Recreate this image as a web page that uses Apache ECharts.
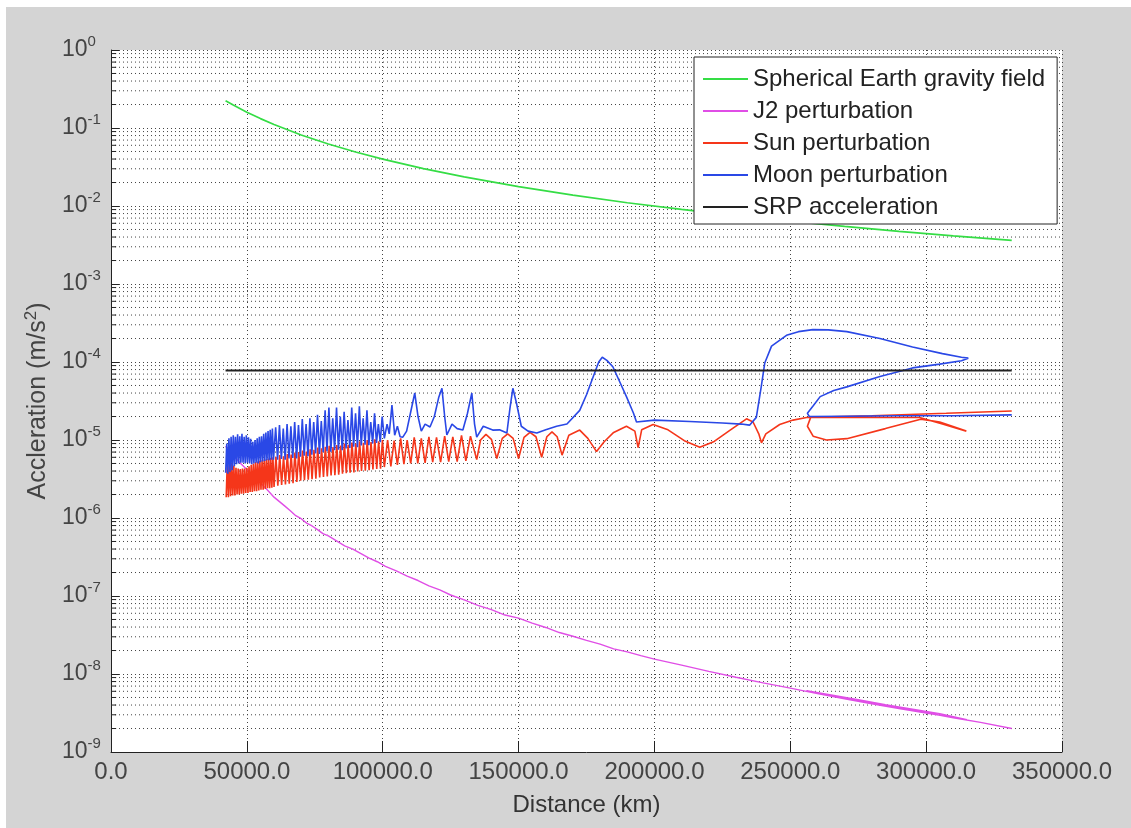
<!DOCTYPE html>
<html>
<head>
<meta charset="utf-8">
<script src="https://cdn.jsdelivr.net/npm/echarts@6/dist/echarts.min.js"></script>
<style>
  html, body { margin: 0; padding: 0; background: #fff; }
  #chart { position: absolute; left: 6px; top: 7px; width: 1125px; height: 821px; }
</style>
</head>
<body>
<div id="chart"></div>
<script>
// distance in km, acceleration in m/s^2
const seriesNames = ['Spherical Earth gravity field', 'J2 perturbation', 'Sun perturbation', 'Moon perturbation', 'SRP acceleration']
const decades = [-9, -8, -7, -6, -5, -4, -3, -2, -1]
const minorSteps = [2, 3, 4, 5, 6, 7, 8, 9]

const earth = [[42164,0.224],[45000,0.197],[50000,0.159],[55000,0.132],[60000,0.111],[70000,0.0813],[80000,0.0623],[90000,0.0492],[100000,0.0399],[115000,0.0301],[130000,0.0236],[150000,0.0177],[170000,0.0138],[190000,0.0110],[210000,0.00904],[230000,0.00753],[250000,0.00638],[270000,0.00547],[290000,0.00474],[310000,0.00415],[331500,0.00363]]

const j2 = [[42164,8.3e-6],[44000,7.0e-6],[46000,5.8e-6],[48000,4.9e-6],[50000,4.2e-6],[52000,3.6e-6],[54000,3.1e-6],[56000,2.6e-6],[58000,2.2e-6],[60000,1.85e-6],[62000,1.62e-6],[64000,1.42e-6],[66000,1.24e-6],[68000,1.07e-6],[70000,9.8e-7],[72000,8.6e-7],[74000,7.9e-7],[76000,7.1e-7],[78000,6.3e-7],[80000,5.9e-7],[83000,5.1e-7],[86000,4.4e-7],[89000,4.0e-7],[92000,3.5e-7],[95000,3.05e-7],[98000,2.75e-7],[101000,2.4e-7],[105000,2.1e-7],[109000,1.8e-7],[113000,1.58e-7],[117000,1.35e-7],[121000,1.2e-7],[125000,1.03e-7],[130000,8.9e-8],[135000,7.6e-8],[140000,6.7e-8],[145000,5.7e-8],[150000,5.2e-8],[155000,4.5e-8],[160000,3.95e-8],[165000,3.4e-8],[170000,3.05e-8],[175000,2.7e-8],[180000,2.42e-8],[185000,2.1e-8],[190000,1.92e-8],[195000,1.72e-8],[200000,1.55e-8],[210000,1.3e-8],[220000,1.08e-8],[230000,9.1e-9],[240000,7.7e-9],[250000,6.6e-9],[260000,5.6e-9],[270000,4.8e-9],[280000,4.15e-9],[290000,3.6e-9],[300000,3.15e-9],[308000,2.85e-9],[315000,2.6e-9],[305000,3.1e-9],[295000,3.55e-9],[285000,4.05e-9],[275000,4.7e-9],[265000,5.4e-9],[256000,6.1e-9],[265000,5.2e-9],[280000,4.3e-9],[295000,3.45e-9],[310000,2.75e-9],[320000,2.4e-9],[331500,2.0e-9]]

const sun = [
  [42400,1.85e-6],[42800,5.3e-6],[43200,1.85e-6],[43600,5.2e-6],[44000,1.9e-6],[44400,5.0e-6],[44800,1.95e-6],[45200,4.7e-6],[45600,1.95e-6],[46000,4.4e-6],
  [46400,2.0e-6],[46800,4.3e-6],[47200,2.0e-6],[47600,4.25e-6],[48000,2.05e-6],[48400,4.3e-6],[48800,2.05e-6],[49200,4.3e-6],[49600,2.1e-6],[50000,4.4e-6],
  [50400,2.1e-6],[50800,4.6e-6],[51200,2.15e-6],[51600,4.8e-6],[52000,2.15e-6],[52400,5.0e-6],[52800,2.2e-6],[53200,5.2e-6],[53600,2.2e-6],[54000,5.3e-6],
  [54400,2.25e-6],[54800,5.4e-6],[55200,2.3e-6],[55600,5.5e-6],[56000,2.3e-6],[56400,5.6e-6],[56800,2.35e-6],[57200,5.7e-6],[57600,2.4e-6],[58000,5.8e-6],
  [58400,2.4e-6],[58800,5.9e-6],[59200,2.45e-6],[59600,6.0e-6],[60000,2.5e-6],
  [60700,6.1e-6],[61400,2.6e-6],[62100,6.4e-6],[62800,2.65e-6],[63500,6.2e-6],[64200,2.7e-6],[64900,6.6e-6],[65600,2.75e-6],[66300,6.5e-6],[67000,2.8e-6],
  [67700,6.9e-6],[68400,2.9e-6],[69100,7.0e-6],[69800,3.0e-6],[70500,7.3e-6],[71200,3.05e-6],[71900,7.1e-6],[72600,3.1e-6],[73300,7.6e-6],[74000,3.15e-6],
  [74700,7.5e-6],[75400,3.2e-6],[76100,8.0e-6],[76800,3.3e-6],[77500,7.8e-6],[78200,3.35e-6],[78900,8.2e-6],[79600,3.4e-6],[80300,8.4e-6],[81000,3.5e-6],
  [81700,8.1e-6],[82400,3.55e-6],[83100,8.6e-6],[83800,3.6e-6],[84500,8.5e-6],[85200,3.7e-6],[85900,9.0e-6],[86600,3.75e-6],[87300,8.7e-6],[88000,3.8e-6],
  [88700,9.3e-6],[89400,3.85e-6],[90100,9.0e-6],[90800,3.95e-6],[91500,9.6e-6],[92200,4.0e-6],[92900,9.2e-6],[93600,4.05e-6],[94300,1.0e-5],[95000,4.1e-6],
  [95700,9.4e-6],[96400,4.2e-6],[97100,1.02e-5],[97800,4.25e-6],[98500,9.6e-6],[99200,4.3e-6],[99900,1.0e-5],
  [100600,4.5e-6],[101800,1.0e-5],[103000,4.6e-6],[104200,9.8e-6],[105400,4.8e-6],[106600,1.05e-5],[107800,4.9e-6],[109000,1.0e-5],[110300,5.0e-6],[111600,1.08e-5],
  [112900,5.0e-6],[114200,1.05e-5],[115600,5.1e-6],[117000,1.1e-5],[118400,5.2e-6],[119800,1.08e-5],[121300,5.2e-6],[122800,1.12e-5],[124300,5.3e-6],[125800,1.1e-5],
  [127400,5.3e-6],[129000,1.15e-5],[130600,5.4e-6],[132300,1.12e-5],[134600,5.6e-6],
  [136000,1.0e-5],[138000,1.18e-5],[140000,1.02e-5],[142000,5.8e-6],[144000,1.05e-5],[146000,1.2e-5],[148000,1.05e-5],[150000,5.8e-6],
  [152000,1.08e-5],[154200,1.25e-5],[156400,1.1e-5],[158500,6.0e-6],[160400,1.1e-5],[162300,1.27e-5],[164200,1.1e-5],[166000,6.4e-6],
  [168500,1.15e-5],[172500,1.34e-5],[175500,1.05e-5],[178700,7.1e-6],[181500,9.5e-6],[185000,1.25e-5],[189700,1.5e-5],[192800,1.3e-5],[194000,8.0e-6],
  [195300,1.35e-5],[199500,1.58e-5],[205000,1.35e-5],[211000,9.8e-6],[216700,8.1e-6],[222000,9.6e-6],[228000,1.35e-5],[233900,1.87e-5],[236300,1.7e-5],
  [238400,1.2e-5],[239400,9.2e-6],[241000,1.2e-5],[246100,1.58e-5],[251000,1.8e-5],[256000,1.94e-5],[275000,1.95e-5],[297600,1.94e-5],[306000,1.6e-5],
  [314800,1.3e-5],[305000,1.7e-5],[298000,1.85e-5],[285000,1.4e-5],[270800,1.04e-5],[263300,1.0e-5],[258400,1.12e-5],[256300,1.5e-5],[257500,1.95e-5],
  [280000,2.05e-5],[307400,2.2e-5],[331500,2.35e-5]
]

const moon = [
  [42200,3.8e-6],[42600,9.0e-6],[43000,3.7e-6],[43400,1.05e-5],[43800,3.9e-6],[44200,1.1e-5],[44600,4.1e-6],[45000,1.15e-5],[45400,4.6e-6],[45800,1.1e-5],
  [46200,4.9e-6],[46600,1.18e-5],[47000,5.0e-6],[47400,1.12e-5],[47800,5.1e-6],[48200,1.2e-5],[48600,5.1e-6],[49000,1.1e-5],[49400,5.0e-6],[49800,1.15e-5],
  [50200,5.1e-6],[50600,1.08e-5],[51000,5.0e-6],[51400,1.04e-5],[51800,4.9e-6],[52200,9.5e-6],[52600,5.0e-6],[53000,1.0e-5],[53400,5.1e-6],[53800,1.05e-5],
  [54200,5.0e-6],[54600,1.1e-5],[55000,5.2e-6],[55400,1.12e-5],[55800,5.3e-6],[56200,1.2e-5],[56600,5.4e-6],[57000,1.25e-5],[57400,5.5e-6],[57800,1.3e-5],
  [58200,5.5e-6],[58600,1.35e-5],[59000,5.6e-6],[59400,1.4e-5],[59800,5.6e-6],
  [60600,1.45e-5],[61300,5.6e-6],[62000,1.55e-5],[62700,5.7e-6],[63400,1.4e-5],[64100,5.6e-6],[64800,1.6e-5],[65500,5.8e-6],[66200,1.5e-5],[66900,5.9e-6],
  [67600,1.7e-5],[68300,5.8e-6],[69000,1.55e-5],[69700,6.1e-6],[70400,1.85e-5],[71100,6.3e-6],[71800,1.6e-5],[72500,6.2e-6],[73200,1.9e-5],[73900,6.5e-6],
  [74600,1.7e-5],[75300,6.7e-6],[76000,2.1e-5],[76700,6.6e-6],[77400,1.75e-5],[78100,7.0e-6],[78800,2.4e-5],[79500,7.2e-6],[80200,2.6e-5],[80900,7.1e-6],
  [81600,1.9e-5],[82300,7.4e-6],[83000,2.6e-5],[83700,7.5e-6],[84400,2.0e-5],[85100,7.4e-6],[85800,2.3e-5],[86500,7.8e-6],[87200,1.8e-5],[87900,7.9e-6],
  [88600,2.6e-5],[89300,8.2e-6],[90000,2.2e-5],[90700,8.1e-6],[91400,2.7e-5],[92100,8.5e-6],[92800,1.9e-5],[93500,8.7e-6],[94200,2.4e-5],[94900,8.6e-6],
  [95600,1.7e-5],[96300,9.0e-6],[97000,2.2e-5],[97700,9.2e-6],[98400,1.6e-5],[99100,9.4e-6],[99800,2.0e-5],
  [100600,1.05e-5],[101600,1.6e-5],[102400,1.2e-5],[103400,2.8e-5],[104400,1.15e-5],[105400,1.5e-5],[106400,1.1e-5],[107400,1.09e-5],[108800,1.3e-5],[110200,2.2e-5],
  [111800,4.0e-5],[113000,2.0e-5],[114200,1.3e-5],[115600,1.6e-5],[117400,1.47e-5],[119000,2.0e-5],[120600,3.5e-5],[121800,4.6e-5],[122800,2.0e-5],[123600,1.16e-5],
  [125500,1.6e-5],[127400,1.4e-5],[129500,1.34e-5],[131200,2.2e-5],[132800,4.0e-5],[133800,1.6e-5],[134600,1.09e-5],[137000,1.5e-5],[140500,1.34e-5],[143000,1.35e-5],
  [145700,1.23e-5],[146800,2.5e-5],[147900,4.6e-5],[149200,3.0e-5],[151000,1.5e-5],[153500,1.3e-5],[156700,1.23e-5],[160000,1.35e-5],[164000,1.5e-5],[167800,1.6e-5],
  [172500,2.4e-5],[175000,3.8e-5],[177500,6.5e-5],[179500,1.0e-4],[180800,1.15e-4],[182500,1.05e-4],[184700,8.7e-5],[187300,5.5e-5],[189700,3.6e-5],[192300,2.2e-5],
  [193400,1.7e-5],[200000,1.8e-5],[213000,1.73e-5],[225000,1.65e-5],[232000,1.6e-5],[235000,1.55e-5],[237500,1.95e-5],[239300,4.8e-5],[240600,9.7e-5],[243100,1.6e-4],
  [248600,2.2e-4],[253000,2.45e-4],[258300,2.6e-4],[264000,2.58e-4],[270800,2.45e-4],[283000,2.0e-4],[295000,1.56e-4],[306000,1.28e-4],[313000,1.15e-4],[315500,1.12e-4],
  [313000,1.04e-4],[305000,9.4e-5],[295000,8.4e-5],[283000,6.5e-5],[270800,4.8e-5],[266000,4.3e-5],[261000,3.6e-5],[258300,2.7e-5],[256300,2.2e-5],[257000,2.0e-5],
  [270000,2.02e-5],[290000,2.05e-5],[310000,2.05e-5],[331500,2.1e-5]
]

const srp = [[42164,7.8e-5],[331500,7.8e-5]]

const colors = ['#35dd45', '#e04ee6', '#f5361a', '#2a48e6', '#222222']
const font = "'Liberation Sans', Arial, sans-serif"
const dotted = { color: '#444', type: [1, 3], width: 1 }

// minor grid lines and minor ticks for the log axis, drawn as broken line series
let minorGrid = []
let minorTicks = []
decades.forEach(d => {
  minorSteps.forEach(m => {
    let v = m * Math.pow(10, d)
    minorGrid.push([0, v], [350000, v], [0, '-'])
    minorTicks.push([0, v], [1900, v], [0, '-'])
  })
})

let chart = echarts.init(document.getElementById('chart'))
chart.setOption({
  backgroundColor: '#d4d4d4',
  animation: false,
  color: colors,
  grid: {
    left: 105, top: 43, width: 951, height: 702,
    show: true, backgroundColor: '#fff', borderWidth: 0
  },
  legend: {
    data: seriesNames,
    orient: 'vertical',
    left: 688, top: 50,
    padding: [10, 12, 5, 9],
    itemWidth: 45, itemHeight: 2, itemGap: 8,
    icon: 'rect',
    backgroundColor: '#fff',
    borderColor: '#222', borderWidth: 1, borderRadius: 0,
    textStyle: { fontSize: 24, color: '#222', fontFamily: font, lineHeight: 24 }
  },
  xAxis: {
    type: 'value',
    min: 0, max: 350000, interval: 50000,
    name: 'Distance (km)',
    nameLocation: 'middle',
    nameGap: 41,
    nameTextStyle: { fontSize: 24, color: '#333', fontFamily: font },
    axisLine: { show: true, onZero: false, lineStyle: { color: '#222', width: 1 } },
    axisTick: { show: true, inside: true, length: 11, lineStyle: { color: '#222' } },
    axisLabel: {
      fontSize: 24, color: '#444', fontFamily: font, margin: 8,
      showMinLabel: true, showMaxLabel: true,
      formatter: v => v.toFixed(1)
    },
    splitLine: { show: true, lineStyle: dotted }
  },
  yAxis: {
    type: 'log',
    logBase: 10,
    min: 1e-9, max: 1,
    splitNumber: 9,
    name: '{a|Accleration (m/s}{s|2}{a|)}',
    nameLocation: 'middle',
    nameGap: 43,
    nameTextStyle: {
      rich: {
        a: { fontSize: 25, color: '#444', fontFamily: font, lineHeight: 32 },
        s: { fontSize: 17, color: '#444', fontFamily: font, verticalAlign: 'top' }
      }
    },
    axisLine: { show: true, lineStyle: { color: '#222', width: 1 } },
    axisTick: { show: true, inside: true, length: 8, lineStyle: { color: '#222' } },
    axisLabel: {
      margin: 49,
      align: 'left',
      formatter: v => '{b|10}{e|' + Math.round(Math.log10(v)) + '}',
      rich: {
        b: { fontSize: 23, color: '#444', fontFamily: font, lineHeight: 32 },
        e: { fontSize: 15, color: '#444', fontFamily: font, verticalAlign: 'top' }
      }
    },
    splitLine: { show: true, lineStyle: dotted }
  },
  series: [
    { name: 'minorGrid', type: 'line', data: minorGrid, silent: true, z: 1, showSymbol: false, connectNulls: false, lineStyle: dotted },
    { name: 'minorTicks', type: 'line', data: minorTicks, silent: true, z: 5, showSymbol: false, connectNulls: false, lineStyle: { color: '#222', width: 1 } },
    { name: seriesNames[0], type: 'line', data: earth, showSymbol: false, z: 2, lineStyle: { width: 1.7, color: colors[0] }, itemStyle: { color: colors[0] } },
    { name: seriesNames[1], type: 'line', data: j2, showSymbol: false, z: 2, lineStyle: { width: 1.4, color: colors[1] }, itemStyle: { color: colors[1] } },
    { name: seriesNames[2], type: 'line', data: sun, showSymbol: false, z: 2, lineStyle: { width: 1.6, color: colors[2] }, itemStyle: { color: colors[2] } },
    { name: seriesNames[3], type: 'line', data: moon, showSymbol: false, z: 2, lineStyle: { width: 1.6, color: colors[3] }, itemStyle: { color: colors[3] } },
    { name: seriesNames[4], type: 'line', data: srp, showSymbol: false, z: 2, lineStyle: { width: 2, color: colors[4] }, itemStyle: { color: colors[4] } }
  ]
})
</script>
</body>
</html>
